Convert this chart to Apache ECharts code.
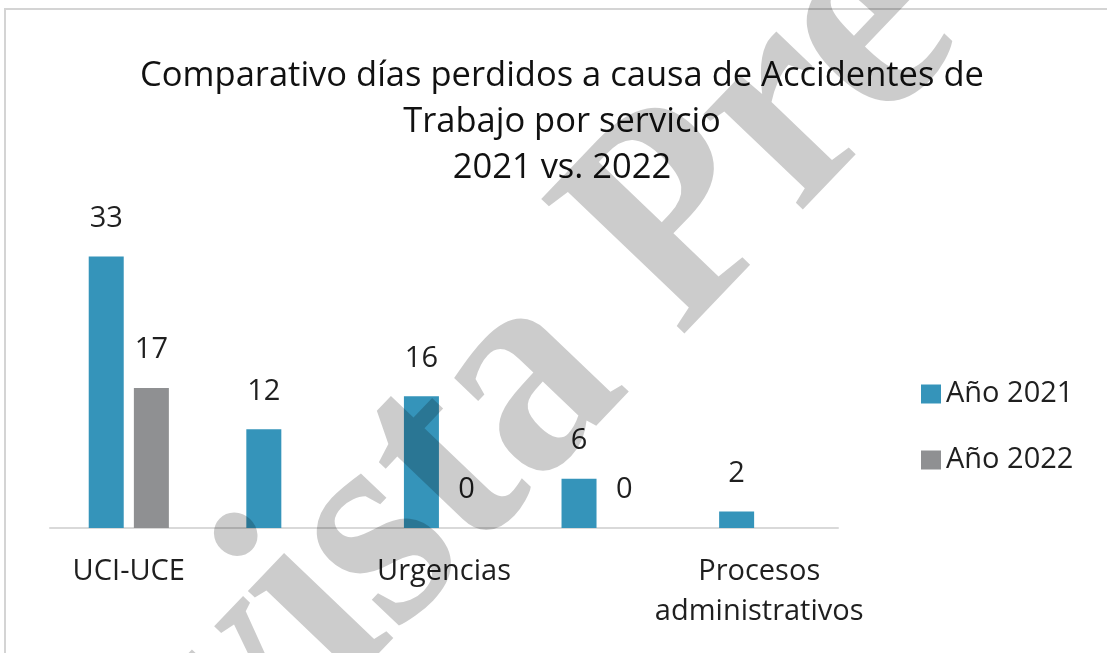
<!DOCTYPE html>
<html>
<head>
<meta charset="utf-8">
<title>Comparativo días perdidos</title>
<script src="https://cdn.jsdelivr.net/npm/echarts@6/dist/echarts.min.js"></script>
<style>
  html, body { margin: 0; padding: 0; background: #ffffff; }
  #chart { width: 1107px; height: 653px; }
</style>
</head>
<body>
<div id="chart"></div>
<script>
// Chart text and values
const titleLines = [
  'Comparativo días perdidos a causa de Accidentes de',
  'Trabajo por servicio',
  '2021 vs. 2022'
];
const categories = ['UCI-UCE', '', 'Urgencias', '', 'Procesos administrativos'];
const seriesNames = ['Año 2021', 'Año 2022'];
const values2021 = [33, 12, 16, 6, 2];
const values2022 = [17, null, 0, 0, null];
const watermarkText = 'Revista Pre';

const FONT = '"Open Sans", sans-serif';
const TEXT_COLOR = '#1f1f1f';

// Diagonal watermark: baseline start point, angle, size and horizontal squeeze
const wmSize = 300;
const wmSqueeze = 0.93;
const wmAngle = 46.3 * Math.PI / 180;
const wmBaseX = 37, wmBaseY = 1042;
const wmMid = 0.33 * wmSize; // distance from baseline to the text's vertical middle
const wmX = wmBaseX - Math.sin(wmAngle) * wmMid;
const wmY = wmBaseY - Math.cos(wmAngle) * wmMid;

const chart = echarts.init(document.getElementById('chart'), null, { renderer: 'canvas' });

const labelStyle = {
  show: true,
  position: 'top',
  distance: 23,
  fontFamily: FONT,
  fontSize: 29,
  lineHeight: 30,
  color: TEXT_COLOR
};

chart.setOption({
  backgroundColor: '#ffffff',
  animation: false,
  title: {
    text: titleLines.join('\n'),
    left: 562,
    top: 53,
    padding: 0,
    textAlign: 'center',
    textStyle: {
      fontFamily: FONT,
      fontSize: 34.5,
      fontWeight: 'normal',
      color: '#111111',
      lineHeight: 46
    }
  },
  legend: {
    orient: 'vertical',
    left: 921,
    top: 379,
    padding: 0,
    icon: 'rect',
    itemWidth: 20,
    itemHeight: 19,
    itemGap: 36,
    data: seriesNames,
    textStyle: { fontFamily: FONT, fontSize: 29, lineHeight: 30, color: TEXT_COLOR }
  },
  grid: { left: 50, right: 269, top: 240, bottom: 125, containLabel: false, outerBoundsMode: 'none' },
  xAxis: {
    type: 'category',
    data: categories,
    axisLine: { lineStyle: { color: '#d9d9d9', width: 2 } },
    axisTick: { show: false },
    axisLabel: {
      interval: 1,
      margin: 24,
      fontFamily: FONT,
      fontSize: 29,
      lineHeight: 40,
      color: TEXT_COLOR,
      formatter: function (v) { return v.replace(' ', '\n'); }
    }
  },
  yAxis: {
    type: 'value',
    min: 0,
    max: 35,
    show: false,
    splitLine: { show: false }
  },
  series: [
    {
      name: seriesNames[0],
      type: 'bar',
      data: values2021,
      barWidth: 35,
      barGap: '29%',
      itemStyle: { color: '#3594ba' },
      label: labelStyle
    },
    {
      name: seriesNames[1],
      type: 'bar',
      data: values2022,
      barWidth: 35,
      barGap: '29%',
      itemStyle: { color: '#8f9092' },
      label: labelStyle
    }
  ],
  graphic: [
    {
      type: 'rect',
      silent: true,
      z: -1,
      shape: { x: 5, y: 9, width: 1200, height: 800 },
      style: { fill: 'none', stroke: '#d4d4d4', lineWidth: 2 }
    },
    {
      type: 'text',
      silent: true,
      z: 100,
      x: wmX,
      y: wmY,
      rotation: wmAngle,
      scaleX: wmSqueeze,
      scaleY: 1,
      style: {
        text: watermarkText,
        fontFamily: '"Liberation Serif", serif',
        fontWeight: 'bold',
        fontSize: wmSize,
        fill: 'rgba(0,0,0,0.2)',
        textAlign: 'left',
        textVerticalAlign: 'middle'
      }
    }
  ]
});
</script>
</body>
</html>
